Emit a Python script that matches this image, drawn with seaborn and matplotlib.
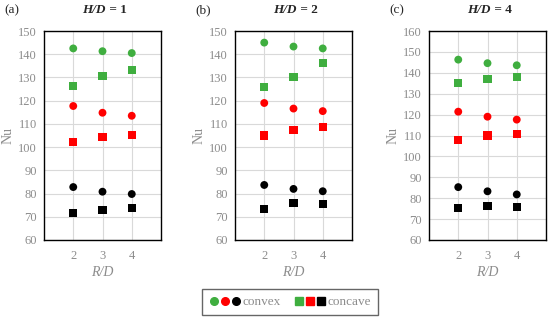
import pandas as pd
import seaborn as sns
import matplotlib.pyplot as plt
from matplotlib.lines import Line2D
from matplotlib.legend_handler import HandlerTuple

# R/D values on the x axis
rd = [2, 3, 4]

# H/D = 1
hd1_convex_green = [142.5, 141.3, 140.5]
hd1_convex_red = [117.7, 114.8, 113.5]
hd1_convex_black = [82.8, 80.8, 79.8]
hd1_concave_green = [126.5, 130.7, 133.3]
hd1_concave_red = [102.2, 104.2, 105.3]
hd1_concave_black = [71.8, 73.0, 73.8]

# H/D = 2
hd2_convex_green = [145.0, 143.3, 142.5]
hd2_convex_red = [119.0, 116.6, 115.5]
hd2_convex_black = [83.7, 82.0, 81.0]
hd2_concave_green = [126.0, 130.3, 136.2]
hd2_concave_red = [105.0, 107.3, 108.5]
hd2_concave_black = [73.3, 76.0, 75.5]

# H/D = 4
hd4_convex_green = [146.3, 144.6, 143.6]
hd4_convex_red = [121.4, 119.0, 117.6]
hd4_convex_black = [85.3, 83.3, 81.8]
hd4_concave_green = [135.3, 137.0, 138.2]
hd4_concave_red = [108.0, 110.0, 110.8]
hd4_concave_black = [75.5, 76.2, 76.0]

panels = [
    ('(a)', '1', (60, 150), {
        ('convex', 'green'): hd1_convex_green, ('convex', 'red'): hd1_convex_red,
        ('convex', 'black'): hd1_convex_black, ('concave', 'green'): hd1_concave_green,
        ('concave', 'red'): hd1_concave_red, ('concave', 'black'): hd1_concave_black}),
    ('(b)', '2', (60, 150), {
        ('convex', 'green'): hd2_convex_green, ('convex', 'red'): hd2_convex_red,
        ('convex', 'black'): hd2_convex_black, ('concave', 'green'): hd2_concave_green,
        ('concave', 'red'): hd2_concave_red, ('concave', 'black'): hd2_concave_black}),
    ('(c)', '4', (60, 160), {
        ('convex', 'green'): hd4_convex_green, ('convex', 'red'): hd4_convex_red,
        ('convex', 'black'): hd4_convex_black, ('concave', 'green'): hd4_concave_green,
        ('concave', 'red'): hd4_concave_red, ('concave', 'black'): hd4_concave_black}),
]

colors = {'green': '#3fae3f', 'red': '#ff0000', 'black': '#000000'}
markers = {'convex': 'o', 'concave': 's'}
gray = '#8c8c8c'

sns.set_theme(style='white')
plt.rcParams['font.family'] = ['Liberation Serif', 'DejaVu Serif']

fig = plt.figure(figsize=(5.5, 3.2), dpi=100)
lefts = [44, 235, 429]

for (label, hd, ylim, series), left in zip(panels, lefts):
    ax = fig.add_axes([left / 550, 80 / 320, 117 / 550, 209 / 320])
    rows = []
    for (shape, col), vals in series.items():
        for x, v in zip(rd, vals):
            rows.append({'R/D': x, 'Nu': v, 'shape': shape, 'col': col})
    df = pd.DataFrame(rows)
    for (shape, col), sub in df.groupby(['shape', 'col']):
        sns.scatterplot(data=sub, x='R/D', y='Nu', ax=ax, color=colors[col],
                        marker=markers[shape], s=32 if shape == 'convex' else 34,
                        edgecolor='none', zorder=3, legend=False)
    ax.set_xlim(1, 5)
    ax.set_ylim(*ylim)
    ax.set_xticks(rd)
    ax.set_yticks(range(ylim[0], ylim[1] + 1, 10))
    ax.grid(True, color='#d9d9d9', linewidth=0.8)
    ax.set_axisbelow(True)
    for sp in ax.spines.values():
        sp.set_color('black')
        sp.set_linewidth(1.0)
    ax.tick_params(axis='y', length=0, labelsize=9, colors=gray, pad=5)
    ax.tick_params(axis='x', length=0, labelsize=9, colors=gray, pad=7)
    ax.set_xlabel('R/D', fontsize=10, color=gray, style='italic', labelpad=3)
    ax.set_ylabel('Nu', fontsize=10, color=gray, labelpad=3)
    ax.text(0.53, 1.1, 'H/D', transform=ax.transAxes, ha='right', va='center',
            fontsize=9.5, fontweight='bold', style='italic')
    ax.text(0.53, 1.1, ' = ' + hd, transform=ax.transAxes, ha='left', va='center',
            fontsize=9.5, fontweight='bold')
    fig.text((left - 40) / 550, 1 - 10 / 320, label, ha='left', va='center', fontsize=9.5)

convex_h = tuple(Line2D([], [], marker='o', ls='', color=colors[c], markersize=5.5)
                 for c in ['green', 'red', 'black'])
concave_h = tuple(Line2D([], [], marker='s', ls='', color=colors[c], markersize=5.5)
                  for c in ['green', 'red', 'black'])
leg = fig.legend([convex_h, concave_h], ['convex', 'concave'],
                 handler_map={tuple: HandlerTuple(ndivide=None, pad=0.15)},
                 loc='center', bbox_to_anchor=(290 / 550, 1 - 302 / 320), ncol=2,
                 fontsize=9.5, frameon=True, fancybox=False, handlelength=2.4,
                 handletextpad=0.15, columnspacing=1.0, borderpad=0.5,
                 borderaxespad=0)
leg.get_frame().set_edgecolor('#404040')
leg.get_frame().set_linewidth(1.0)
for t in leg.get_texts():
    t.set_color(gray)

fig.savefig('out.png', dpi=100)
